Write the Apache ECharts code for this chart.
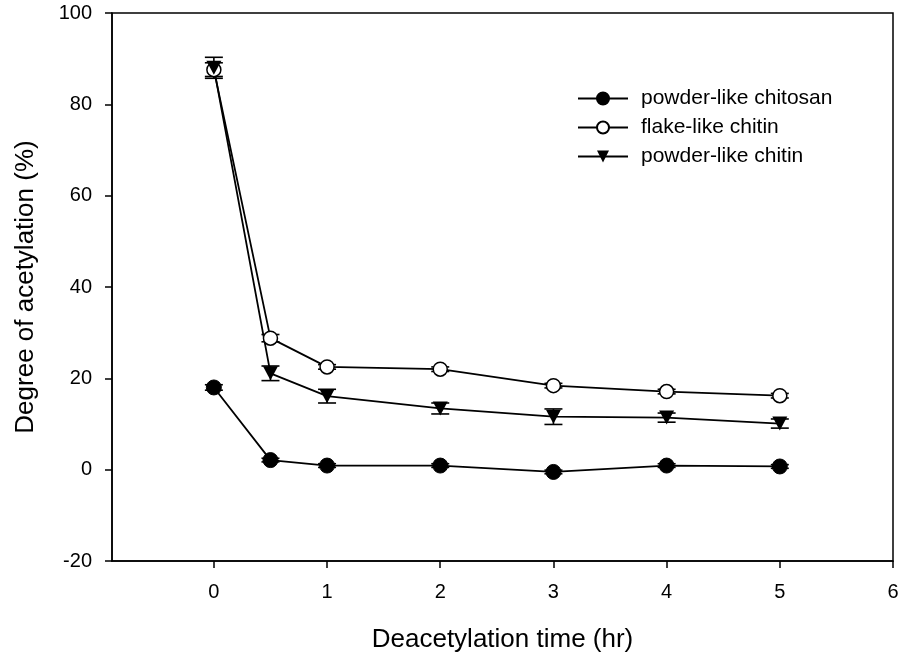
<!DOCTYPE html>
<html>
<head>
<meta charset="utf-8">
<script src="https://cdn.jsdelivr.net/npm/echarts@6/dist/echarts.min.js"></script>
<style>html,body{margin:0;padding:0;background:#fff}#c{width:904px;height:658px}</style>
</head>
<body>
<div id="c"></div>
<script>
const times = [0, 0.5, 1, 2, 3, 4, 5];
const chitosan = [18.0, 2.1, 0.9, 0.9, -0.5, 0.9, 0.7];
const flakeChitin = [87.6, 28.8, 22.5, 22.0, 18.4, 17.1, 16.2];
const powderChitin = [88.0, 21.1, 16.1, 13.4, 11.6, 11.4, 10.1];
const errChitosan = [0.6, 0.4, 0.4, 0.4, 0.4, 0.4, 0.4];
const errFlake = [1.5, 0.8, 0.5, 0.5, 0.5, 0.5, 0.5];
const errPowderChitin = [2.3, 1.6, 1.5, 1.2, 1.7, 1.0, 1.0];
const xTicks = [0, 1, 2, 3, 4, 5, 6];
const names = ['powder-like chitosan', 'flake-like chitin', 'powder-like chitin'];

const FONT = '"Liberation Sans", Arial, sans-serif';
const tri = 'path://M0,0 L10,0 L5,9 Z';

function pts(vals) { return times.map((t, i) => [t, vals[i]]); }
function errPts(vals, errs) { return times.map((t, i) => [t, vals[i], errs[i]]); }

function errSeries(vals, errs) {
  return {
    type: 'custom',
    z: 1,
    silent: true,
    data: errPts(vals, errs),
    renderItem: function (params, api) {
      const x = api.value(0), y = api.value(1), e = api.value(2);
      const top = api.coord([x, y + e]);
      const bot = api.coord([x, y - e]);
      const hw = 9;
      const st = { stroke: '#000', lineWidth: 1.6 };
      return {
        type: 'group',
        children: [
          { type: 'line', shape: { x1: top[0], y1: top[1], x2: bot[0], y2: bot[1] }, style: st },
          { type: 'line', shape: { x1: top[0] - hw, y1: top[1], x2: top[0] + hw, y2: top[1] }, style: st },
          { type: 'line', shape: { x1: bot[0] - hw, y1: bot[1], x2: bot[0] + hw, y2: bot[1] }, style: st }
        ]
      };
    }
  };
}

const chart = echarts.init(document.getElementById('c'), null, { renderer: 'canvas' });
chart.setOption({
  animation: false,
  backgroundColor: '#fff',
  grid: { left: 112, top: 13, right: 11, bottom: 97, outerBoundsMode: 'none', containLabel: false,
          show: true, borderColor: '#000', borderWidth: 1.5, backgroundColor: 'transparent' },
  legend: {
    orient: 'vertical',
    left: 572,
    top: 83,
    itemWidth: 50,
    itemHeight: 15,
    itemGap: 8,
    textStyle: { fontFamily: FONT, fontSize: 21, color: '#000', padding: [0, 0, 0, 8] },
    data: names
  },
  xAxis: {
    type: 'value',
    min: -0.9,
    max: 6,
    name: 'Deacetylation time (hr)',
    nameLocation: 'middle',
    nameGap: 66,
    nameTextStyle: { fontFamily: FONT, fontSize: 26, color: '#000' },
    axisLine: { onZero: false, lineStyle: { color: '#000', width: 1.5 } },
    axisTick: { show: true, length: 7, inside: false, customValues: xTicks, lineStyle: { color: '#000', width: 1.5 } },
    axisLabel: { customValues: xTicks, margin: 21, fontFamily: FONT, fontSize: 20, color: '#000' },
    splitLine: { show: false }
  },
  yAxis: {
    type: 'value',
    min: -20,
    max: 100,
    interval: 20,
    name: 'Degree of acetylation (%)',
    nameLocation: 'middle',
    nameGap: 73,
    nameTextStyle: { fontFamily: FONT, fontSize: 26, color: '#000' },
    axisLine: { onZero: false, lineStyle: { color: '#000', width: 1.5 } },
    axisTick: { show: true, length: 7, inside: false, lineStyle: { color: '#000', width: 1.5 } },
    axisLabel: { margin: 20, fontFamily: FONT, fontSize: 20, color: '#000' },
    splitLine: { show: false }
  },
  series: [
    errSeries(chitosan, errChitosan),
    errSeries(flakeChitin, errFlake),
    errSeries(powderChitin, errPowderChitin),
    {
      name: names[0], type: 'line', z: 3, data: pts(chitosan),
      symbol: 'circle', symbolSize: 15,
      lineStyle: { color: '#000', width: 1.8 },
      itemStyle: { color: '#000', borderColor: '#000', borderWidth: 1 }
    },
    {
      name: names[1], type: 'line', z: 3, data: pts(flakeChitin),
      symbol: 'circle', symbolSize: 14,
      lineStyle: { color: '#000', width: 1.8 },
      itemStyle: { color: '#fff', borderColor: '#000', borderWidth: 1.5 }
    },
    {
      name: names[2], type: 'line', z: 3, data: pts(powderChitin),
      symbol: tri, symbolSize: [15, 14],
      lineStyle: { color: '#000', width: 1.8 },
      itemStyle: { color: '#000', borderColor: '#000', borderWidth: 0 }
    }
  ]
});
</script>
</body>
</html>
